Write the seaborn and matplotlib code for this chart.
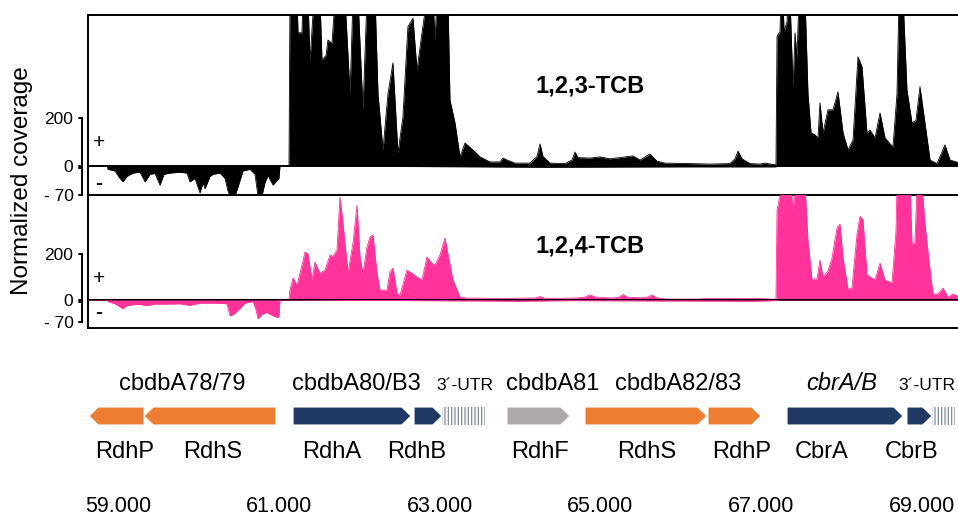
import matplotlib
matplotlib.use("Agg")
import matplotlib.pyplot as plt
from matplotlib.patches import Polygon, Rectangle
from matplotlib.transforms import blended_transform_factory
import pandas as pd
import seaborn as sns

# ---------------- data ----------------
tcb123_plus_pos = [58627, 61127, 61139, 61226, 61239, 61288, 61301, 61363, 61388, 61438, 61512, 61537,
                   61587, 61612, 61662, 61699, 61823, 61886, 61923, 61985, 62047, 62097, 62197, 62234,
                   62296, 62358, 62420, 62482, 62544, 62606, 62669, 62719, 62781, 62843, 62918, 62943,
                   62968, 63104, 63129, 63192, 63254, 63316, 63415, 63503, 63627, 63751, 63789, 63838,
                   63938, 64124, 64212, 64249, 64286, 64373, 64560, 64647, 64684, 64721, 64871, 64995,
                   65119, 65244, 65406, 65493, 65617, 65704, 65804, 66115, 66363, 66612, 66674, 66712,
                   66761, 66861, 66985, 67047, 67172, 67184, 67197, 67234, 67246, 67271, 67284, 67321,
                   67333, 67358, 67396, 67421, 67445, 67470, 67545, 67582, 67620, 67669, 67707, 67731,
                   67769, 67831, 67893, 67955, 68018, 68080, 68142, 68204, 68254, 68316, 68353, 68416,
                   68478, 68540, 68639, 68689, 68714, 68764, 68813, 68876, 68925, 68975, 69037, 69100,
                   69187, 69286, 69348, 69448]
tcb123_plus_val = [0, 0, 700, 700, 555, 555, 700, 700, 434, 700, 700, 442,
                   460, 525, 510, 700, 700, 300, 700, 700, 233, 700, 700, 300,
                   67, 300, 430, 54, 204, 580, 615, 400, 555, 700, 700, 525,
                   700, 700, 275, 179, 38, 96, 67, 38, 17, 17, 33, 25,
                   12, 12, 40, 92, 40, 12, 10, 25, 58, 35, 33, 38,
                   30, 35, 42, 25, 50, 20, 12, 10, 8, 10, 30, 62,
                   30, 10, 8, 12, 5, 5, 540, 560, 700, 700, 560, 600,
                   700, 700, 325, 555, 450, 700, 700, 300, 138, 130, 117, 263,
                   138, 234, 234, 309, 138, 67, 108, 455, 413, 138, 150, 117,
                   221, 117, 79, 300, 700, 700, 317, 179, 190, 330, 179, 25,
                   10, 88, 25, 15]

tcb123_minus_pos = [58627, 58863, 58876, 58963, 59025, 59062, 59112, 59187, 59274, 59336, 59398, 59461,
                    59522, 59572, 59647, 59771, 59858, 59895, 59958, 60020, 60057, 60082, 60144, 60182,
                    60269, 60331, 60368, 60393, 60455, 60493, 60555, 60642, 60704, 60741, 60791, 60828,
                    60866, 60928, 60978, 61002, 61015, 63500, 64300, 66000, 67184, 67197, 69448]
tcb123_minus_val = [0, 0, -8, -12, -30, -38, -25, -17, -15, -38, -20, -18,
                    -46, -20, -17, -15, -17, -38, -30, -65, -40, -55, -25, -20,
                    -17, -30, -60, -72, -72, -50, -12, -8, -20, -72, -72, -40,
                    -23, -46, -35, -30, 0, -2, -3, -2, -2, 0, 0]

tcb124_plus_pos = [58627, 58876, 61127, 61139, 61177, 61226, 61288, 61326, 61363, 61413, 61450, 61512,
                   61575, 61637, 61674, 61724, 61761, 61798, 61861, 61923, 61973, 62010, 62047, 62097,
                   62134, 62172, 62221, 62259, 62346, 62383, 62420, 62470, 62507, 62594, 62656, 62719,
                   62781, 62843, 62905, 62943, 63005, 63067, 63104, 63167, 63254, 63341, 63503, 63800,
                   64000, 64190, 64249, 64310, 64500, 64700, 64800, 64871, 64950, 65150, 65230, 65281,
                   65340, 65500, 65590, 65642, 65700, 65828, 66202, 66326, 66948, 67184, 67197, 67259,
                   67371, 67396, 67421, 67545, 67582, 67632, 67694, 67731, 67769, 67831, 67881, 67943,
                   67980, 68018, 68080, 68129, 68192, 68229, 68266, 68316, 68378, 68416, 68478, 68540,
                   68627, 68677, 68689, 68851, 68876, 68913, 68938, 69000, 69037, 69100, 69137, 69199,
                   69261, 69324, 69386, 69448]
tcb124_plus_val = [0, 3, 3, 43, 96, 65, 150, 209, 200, 87, 165, 117,
                   130, 196, 190, 217, 448, 335, 117, 248, 413, 187, 117, 230,
                   274, 283, 117, 43, 43, 122, 139, 30, 20, 130, 117, 100,
                   87, 187, 160, 152, 196, 270, 200, 87, 13, 8, 8, 6,
                   8, 9, 15, 8, 7, 9, 12, 22, 12, 9, 12, 24,
                   12, 10, 13, 22, 10, 4, 4, 7, 7, 3, 390, 500,
                   500, 380, 500, 500, 257, 91, 91, 174, 100, 126, 183, 313,
                   330, 183, 48, 52, 287, 365, 350, 109, 96, 87, 161, 87,
                   74, 300, 500, 500, 243, 250, 500, 500, 330, 130, 26, 26,
                   52, 13, 26, 17]

tcb124_minus_pos = [58627, 58863, 58876, 58963, 59025, 59062, 59112, 59187, 59274, 59361, 59461, 59609,
                    59771, 59895, 60020, 60206, 60355, 60393, 60430, 60493, 60580, 60679, 60716, 60741,
                    60804, 60853, 60928, 60990, 61002, 61015, 63500, 64000, 64600, 66900, 67184, 67197,
                    69448]
tcb124_minus_val = [0, 0, -5, -12, -22, -27, -18, -15, -14, -18, -13, -13,
                    -12, -17, -10, -10, -12, -50, -47, -33, -10, -5, -30, -60,
                    -43, -40, -50, -56, -50, 0, -3, -4, -2, -4, -2, 0,
                    0]

gene_names = ["RdhP", "RdhS", "RdhA", "RdhB", "RdhF", "RdhS", "RdhP", "CbrA", "CbrB"]
gene_start = [58639, 59323, 61177, 62682, 63838, 64808, 66338, 67321, 68813]
gene_end = [59323, 60965, 62644, 63030, 64622, 66326, 66997, 68764, 69124]
gene_strand = [-1, -1, 1, 1, 1, 1, 1, 1, 1]
gene_kind = ["orange", "orange", "navy", "navy", "grey", "orange", "orange", "navy", "navy"]
gene_label_x = [59087, 60181, 61661, 62719, 64249, 65579, 66761, 67756, 68876]

utr_start = [63030, 69124]
utr_end = [63564, 69410]
utr_label_x = [63316, 69062]

operon_names = ["cbdbA78/79", "cbdbA80/B3", "cbdbA81", "cbdbA82/83", "cbrA/B"]
operon_x = [59796, 61960, 64410, 65965, 68005]
operon_italic = [False, False, False, False, True]

xtick_pos = [59000, 61000, 63000, 65000, 67000, 69000]
xtick_labels = ["59.000", "61.000", "63.000", "65.000", "67.000", "69.000"]

# ---------------- style ----------------
sns.set_theme(style="white")
plt.rcParams["font.family"] = ["Liberation Sans", "DejaVu Sans"]
plt.rcParams["text.color"] = "black"
plt.rcParams["ytick.color"] = "black"
plt.rcParams["hatch.linewidth"] = 0.9

W, H = 958, 518
fig = plt.figure(figsize=(W / 100, H / 100), dpi=100)
XMIN, XMAX = 58627, 69448
palette = {"orange": "#ED7D31", "navy": "#203864", "grey": "#AEAAAA"}
BLACK = "#000000"
PINK = "#FF3399"


def fax(top_px, bot_px):
    return fig.add_axes([88 / W, 1 - bot_px / H, (W - 88) / W, (bot_px - top_px) / H])


ax1p = fax(15, 166)
ax1m = fax(166, 195)
ax2p = fax(195, 300)
ax2m = fax(300, 328)

series = [
    (ax1p, tcb123_plus_pos, tcb123_plus_val, BLACK, (0, 629)),
    (ax1m, tcb123_minus_pos, tcb123_minus_val, BLACK, (-70, 0)),
    (ax2p, tcb124_plus_pos, tcb124_plus_val, PINK, (0, 457)),
    (ax2m, tcb124_minus_pos, tcb124_minus_val, PINK, (-89, 0)),
]
for ax, pos, val, col, ylim in series:
    df = pd.DataFrame({"pos": pos, "cov": val})
    ax.fill_between(df["pos"], df["cov"], 0, color=col, lw=0)
    sns.lineplot(data=df, x="pos", y="cov", ax=ax, color=col, lw=0.6, estimator=None, sort=False)
    ax.set_xlim(XMIN, XMAX)
    ax.set_ylim(*ylim)
    ax.set_xlabel("")
    ax.set_ylabel("")
    ax.set_xticks([])
    for s in ax.spines.values():
        s.set_color("black")
        s.set_linewidth(1.4)
    ax.spines["right"].set_visible(False)
    ax.patch.set_alpha(0)

ax1p.spines["top"].set_visible(True)
ax1m.spines["top"].set_visible(False)
ax2p.spines["top"].set_visible(False)
ax2m.spines["top"].set_visible(False)

# y ticks labels
for ax in (ax1p, ax2p):
    ax.set_yticks([0, 200])
    ax.set_yticklabels(["0", "200"])
for ax in (ax1m, ax2m):
    ax.set_yticks([-70])
    ax.set_yticklabels(["- 70"])
for ax in (ax1p, ax1m, ax2p, ax2m):
    ax.tick_params(axis="y", length=0, pad=10.5, labelsize=12.5, labelcolor="black")

# brackets
ax_w = W - 88
bx = -6 / ax_w
hx = -9 / ax_w
for ax, y0, y1 in ((ax1p, 0, 200), (ax2p, 0, 200), (ax1m, -4, -70), (ax2m, -6, -70)):
    tr = blended_transform_factory(ax.transAxes, ax.transData)
    ax.plot([hx, bx, bx, hx], [y1, y1, y0, y0], color="black", lw=1.4, transform=tr, clip_on=False,
            solid_joinstyle="miter")

# + / - signs
for (xp, yp, s) in ((99, 143, "+"), (99, 183, "-"), (99, 279, "+"), (99, 313, "-")):
    fig.text(xp / W, 1 - yp / H, s, ha="center", va="center", fontsize=15, color="black",
             fontweight="bold" if s == "-" else "normal")

# sample labels
fig.text(590 / W, 1 - 93 / H, "1,2,3-TCB", ha="center", va="baseline", fontsize=17, fontweight="bold")
fig.text(590 / W, 1 - 253 / H, "1,2,4-TCB", ha="center", va="baseline", fontsize=17, fontweight="bold")

fig.text(22 / W, 1 - 181 / H, "Normalized coverage", rotation=90, ha="center", va="center", fontsize=17.5)

# ---------------- gene track ----------------
axg = fig.add_axes([88 / W, 0, (W - 88) / W, 178 / H])
axg.set_xlim(XMIN, XMAX)
axg.set_ylim(0, 178)
axg.axis("off")
yc, hh = 102, 9
head = 115
for s, e, st, k in zip(gene_start, gene_end, gene_strand, gene_kind):
    if st > 0:
        pts = [(s, yc - hh), (e - head, yc - hh), (e, yc), (e - head, yc + hh), (s, yc + hh)]
    else:
        pts = [(e, yc - hh), (s + head, yc - hh), (s, yc), (s + head, yc + hh), (e, yc + hh)]
    axg.add_patch(Polygon(pts, closed=True, facecolor=palette[k], edgecolor="white", lw=0.8))
for s, e in zip(utr_start, utr_end):
    axg.add_patch(Rectangle((s, yc - hh), e - s, 2 * hh, facecolor="white", edgecolor="#7d889e",
                            hatch="|||||", lw=0))

for name, x in zip(gene_names, gene_label_x):
    axg.text(x, 60, name, ha="center", va="baseline", fontsize=17)
for name, x, it in zip(operon_names, operon_x, operon_italic):
    axg.text(x, 128, name, ha="center", va="baseline", fontsize=17, style="italic" if it else "normal")
for x in utr_label_x:
    axg.text(x, 128, "3\u00b4-UTR", ha="center", va="baseline", fontsize=12.5)
for x, lab in zip(xtick_pos, xtick_labels):
    axg.text(x, 6, lab, ha="center", va="baseline", fontsize=15.5)

fig.savefig("out.png", dpi=100)
